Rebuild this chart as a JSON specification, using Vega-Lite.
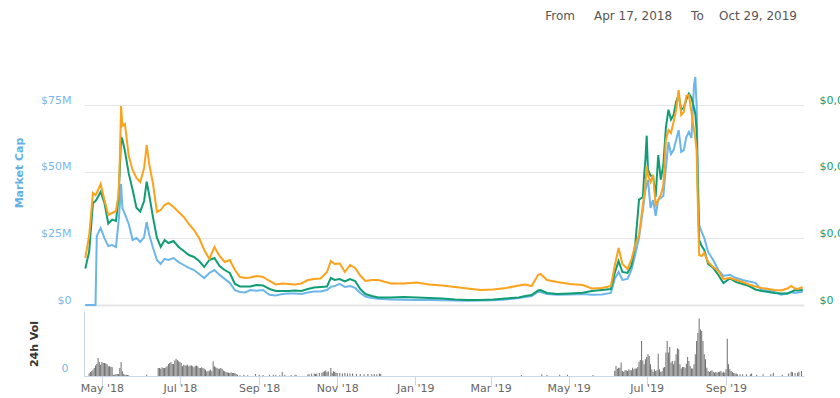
{
  "$schema": "https://vega.github.io/schema/vega-lite/v6.json",
  "autosize": {"type": "none"},
  "padding": {"left": 84, "top": 40, "right": 36, "bottom": 26},
  "params": [{"name": "width", "value": 720}, {"name": "height", "value": 332}],
  "background": "white",
  "config": {
    "font": "DejaVu Sans",
    "view": {"stroke": null},
    "axis": {"labelFont": "DejaVu Sans", "titleFont": "DejaVu Sans"}
  },
  "title": {
    "text": "From\u00a0\u00a0\u00a0\u00a0\u00a0Apr 17, 2018\u00a0\u00a0\u00a0\u00a0\u00a0To\u00a0\u00a0\u00a0\u00a0Oct 29, 2019",
    "anchor": "end",
    "frame": "group",
    "fontSize": 12,
    "fontWeight": "normal",
    "color": "#555555",
    "offset": 17,
    "dx": -7
  },
  "spacing": 2,
  "datasets": {
    "prices": [
      {"date":"2018-04-18","mcap":0,"usd":0.0000548,"sat":0.94},
      {"date":"2018-04-21","mcap":0,"usd":0.0000795,"sat":1.38},
      {"date":"2018-04-24","mcap":0,"usd":0.000153,"sat":2.24},
      {"date":"2018-04-26","mcap":0,"usd":0.000156,"sat":2.20},
      {"date":"2018-04-27","mcap":25.9,"usd":0.000159,"sat":2.24},
      {"date":"2018-04-30","mcap":28.9,"usd":0.00017,"sat":2.42},
      {"date":"2018-05-03","mcap":25.1,"usd":0.000153,"sat":2.10},
      {"date":"2018-05-06","mcap":22.1,"usd":0.000122,"sat":1.80},
      {"date":"2018-05-09","mcap":22.5,"usd":0.000128,"sat":1.84},
      {"date":"2018-05-12","mcap":21.8,"usd":0.000126,"sat":1.88},
      {"date":"2018-05-14","mcap":31.1,"usd":0.000161,"sat":2.20},
      {"date":"2018-05-15","mcap":37.5,"usd":0.000203,"sat":2.90},
      {"date":"2018-05-16","mcap":45.4,"usd":0.000252,"sat":3.98},
      {"date":"2018-05-17","mcap":36.4,"usd":0.000248,"sat":3.58},
      {"date":"2018-05-19","mcap":34.1,"usd":0.000231,"sat":3.62},
      {"date":"2018-05-22","mcap":30.4,"usd":0.000197,"sat":2.98},
      {"date":"2018-05-25","mcap":24.4,"usd":0.000173,"sat":2.70},
      {"date":"2018-05-28","mcap":25.1,"usd":0.000146,"sat":2.54},
      {"date":"2018-05-31","mcap":23.6,"usd":0.00014,"sat":2.46},
      {"date":"2018-06-03","mcap":25.5,"usd":0.000156,"sat":2.74},
      {"date":"2018-06-05","mcap":31.1,"usd":0.000185,"sat":3.20},
      {"date":"2018-06-07","mcap":26.3,"usd":0.000165,"sat":2.82},
      {"date":"2018-06-10","mcap":21.4,"usd":0.000131,"sat":2.42},
      {"date":"2018-06-13","mcap":16.9,"usd":0.000101,"sat":1.86},
      {"date":"2018-06-16","mcap":15.4,"usd":0.000087,"sat":1.90},
      {"date":"2018-06-19","mcap":17.3,"usd":0.0000975,"sat":2.00},
      {"date":"2018-06-22","mcap":16.9,"usd":0.000093,"sat":2.04},
      {"date":"2018-06-26","mcap":17.6,"usd":0.000096,"sat":1.96},
      {"date":"2018-06-30","mcap":16.1,"usd":0.000087,"sat":1.86},
      {"date":"2018-07-04","mcap":15.0,"usd":0.000081,"sat":1.76},
      {"date":"2018-07-08","mcap":13.9,"usd":0.000075,"sat":1.62},
      {"date":"2018-07-12","mcap":13.1,"usd":0.000072,"sat":1.50},
      {"date":"2018-07-16","mcap":11.6,"usd":0.000066,"sat":1.34},
      {"date":"2018-07-20","mcap":10.1,"usd":0.000057,"sat":1.10},
      {"date":"2018-07-24","mcap":12.0,"usd":0.0000675,"sat":0.92},
      {"date":"2018-07-28","mcap":13.1,"usd":0.0000705,"sat":1.16},
      {"date":"2018-08-01","mcap":11.3,"usd":0.0000585,"sat":0.98},
      {"date":"2018-08-05","mcap":9.8,"usd":0.0000525,"sat":0.86},
      {"date":"2018-08-09","mcap":8.3,"usd":0.000048,"sat":0.90},
      {"date":"2018-08-13","mcap":5.6,"usd":0.0000315,"sat":0.70},
      {"date":"2018-08-17","mcap":4.9,"usd":0.0000278,"sat":0.56},
      {"date":"2018-08-21","mcap":4.7,"usd":0.0000278,"sat":0.54},
      {"date":"2018-08-25","mcap":5.6,"usd":0.0000278,"sat":0.55},
      {"date":"2018-08-30","mcap":5.3,"usd":0.00003,"sat":0.58},
      {"date":"2018-09-04","mcap":5.6,"usd":0.0000293,"sat":0.56},
      {"date":"2018-09-09","mcap":3.8,"usd":0.000024,"sat":0.48},
      {"date":"2018-09-14","mcap":3.6,"usd":0.000021,"sat":0.41},
      {"date":"2018-09-19","mcap":4.1,"usd":0.000021,"sat":0.43},
      {"date":"2018-09-24","mcap":4.3,"usd":0.000021,"sat":0.42},
      {"date":"2018-09-29","mcap":4.3,"usd":0.0000218,"sat":0.41},
      {"date":"2018-10-04","mcap":4.1,"usd":0.000021,"sat":0.43},
      {"date":"2018-10-09","mcap":4.7,"usd":0.000024,"sat":0.50},
      {"date":"2018-10-14","mcap":5.1,"usd":0.0000263,"sat":0.52},
      {"date":"2018-10-19","mcap":5.1,"usd":0.000027,"sat":0.53},
      {"date":"2018-10-24","mcap":5.6,"usd":0.0000278,"sat":0.66},
      {"date":"2018-10-27","mcap":6.8,"usd":0.0000405,"sat":0.88},
      {"date":"2018-10-30","mcap":7.1,"usd":0.0000375,"sat":0.82},
      {"date":"2018-11-03","mcap":7.9,"usd":0.000039,"sat":0.83},
      {"date":"2018-11-07","mcap":6.8,"usd":0.0000353,"sat":0.66},
      {"date":"2018-11-11","mcap":7.1,"usd":0.000039,"sat":0.80},
      {"date":"2018-11-15","mcap":6.4,"usd":0.000036,"sat":0.74},
      {"date":"2018-11-19","mcap":4.5,"usd":0.000024,"sat":0.59},
      {"date":"2018-11-23","mcap":3.2,"usd":0.0000165,"sat":0.48},
      {"date":"2018-11-28","mcap":2.6,"usd":0.0000135,"sat":0.50},
      {"date":"2018-12-03","mcap":2.3,"usd":0.0000113,"sat":0.50},
      {"date":"2018-12-13","mcap":2.1,"usd":0.0000113,"sat":0.43},
      {"date":"2018-12-23","mcap":2.0,"usd":0.000012,"sat":0.43},
      {"date":"2019-01-02","mcap":1.9,"usd":0.0000113,"sat":0.45},
      {"date":"2019-01-12","mcap":1.9,"usd":0.0000105,"sat":0.41},
      {"date":"2019-01-22","mcap":1.8,"usd":0.0000098,"sat":0.39},
      {"date":"2019-02-01","mcap":1.7,"usd":0.0000083,"sat":0.36},
      {"date":"2019-02-11","mcap":1.6,"usd":0.0000075,"sat":0.33},
      {"date":"2019-02-21","mcap":1.7,"usd":0.0000075,"sat":0.30},
      {"date":"2019-03-03","mcap":1.8,"usd":0.0000083,"sat":0.31},
      {"date":"2019-03-13","mcap":2.1,"usd":0.0000098,"sat":0.34},
      {"date":"2019-03-23","mcap":2.6,"usd":0.0000113,"sat":0.39},
      {"date":"2019-03-28","mcap":3.0,"usd":0.0000135,"sat":0.41},
      {"date":"2019-04-02","mcap":3.4,"usd":0.000015,"sat":0.38},
      {"date":"2019-04-07","mcap":4.9,"usd":0.0000218,"sat":0.60},
      {"date":"2019-04-09","mcap":4.9,"usd":0.0000225,"sat":0.62},
      {"date":"2019-04-14","mcap":4.1,"usd":0.000018,"sat":0.50},
      {"date":"2019-04-22","mcap":3.8,"usd":0.0000165,"sat":0.46},
      {"date":"2019-05-02","mcap":3.9,"usd":0.0000173,"sat":0.42},
      {"date":"2019-05-12","mcap":4.1,"usd":0.0000185,"sat":0.40},
      {"date":"2019-05-19","mcap":3.8,"usd":0.000021,"sat":0.33},
      {"date":"2019-05-27","mcap":3.9,"usd":0.0000225,"sat":0.34},
      {"date":"2019-06-03","mcap":4.5,"usd":0.000024,"sat":0.38},
      {"date":"2019-06-06","mcap":9.8,"usd":0.000048,"sat":0.78},
      {"date":"2019-06-09","mcap":12.4,"usd":0.000066,"sat":1.14},
      {"date":"2019-06-12","mcap":9.4,"usd":0.0000495,"sat":0.82},
      {"date":"2019-06-16","mcap":9.8,"usd":0.000048,"sat":0.72},
      {"date":"2019-06-19","mcap":13.1,"usd":0.0000585,"sat":0.90},
      {"date":"2019-06-22","mcap":18.8,"usd":0.00009,"sat":1.20},
      {"date":"2019-06-25","mcap":25.1,"usd":0.000158,"sat":1.40},
      {"date":"2019-06-28","mcap":35.6,"usd":0.000162,"sat":2.00},
      {"date":"2019-06-29","mcap":39.4,"usd":0.000195,"sat":2.20},
      {"date":"2019-06-30","mcap":43.1,"usd":0.000218,"sat":2.40},
      {"date":"2019-07-01","mcap":45.0,"usd":0.000254,"sat":2.78},
      {"date":"2019-07-02","mcap":46.9,"usd":0.000203,"sat":2.60},
      {"date":"2019-07-04","mcap":36.4,"usd":0.000194,"sat":2.46},
      {"date":"2019-07-06","mcap":39.4,"usd":0.000194,"sat":2.60},
      {"date":"2019-07-08","mcap":33.4,"usd":0.000162,"sat":2.00},
      {"date":"2019-07-10","mcap":39.4,"usd":0.000225,"sat":2.10},
      {"date":"2019-07-12","mcap":40.1,"usd":0.000188,"sat":2.20},
      {"date":"2019-07-14","mcap":40.9,"usd":0.00021,"sat":2.40},
      {"date":"2019-07-16","mcap":51.4,"usd":0.000266,"sat":3.30},
      {"date":"2019-07-18","mcap":61.1,"usd":0.000293,"sat":3.50},
      {"date":"2019-07-20","mcap":56.6,"usd":0.000278,"sat":3.44},
      {"date":"2019-07-22","mcap":58.1,"usd":0.000285,"sat":3.66},
      {"date":"2019-07-24","mcap":61.9,"usd":0.000305,"sat":3.90},
      {"date":"2019-07-26","mcap":65.6,"usd":0.000315,"sat":4.30},
      {"date":"2019-07-28","mcap":57.4,"usd":0.000293,"sat":3.80},
      {"date":"2019-07-30","mcap":58.1,"usd":0.000296,"sat":3.86},
      {"date":"2019-08-01","mcap":63.0,"usd":0.000308,"sat":4.18},
      {"date":"2019-08-03","mcap":64.9,"usd":0.000317,"sat":4.20},
      {"date":"2019-08-05","mcap":62.6,"usd":0.000311,"sat":3.86},
      {"date":"2019-08-07","mcap":82.5,"usd":0.000296,"sat":3.50},
      {"date":"2019-08-08","mcap":85.5,"usd":0.000287,"sat":3.34},
      {"date":"2019-08-09","mcap":75.0,"usd":0.000263,"sat":3.10},
      {"date":"2019-08-10","mcap":50.6,"usd":0.000173,"sat":2.00},
      {"date":"2019-08-11","mcap":30.0,"usd":0.0000975,"sat":1.00},
      {"date":"2019-08-13","mcap":27.4,"usd":0.0000885,"sat":0.98},
      {"date":"2019-08-15","mcap":25.1,"usd":0.0000825,"sat":1.04},
      {"date":"2019-08-18","mcap":19.9,"usd":0.0000615,"sat":0.86},
      {"date":"2019-08-22","mcap":16.9,"usd":0.0000555,"sat":0.76},
      {"date":"2019-08-26","mcap":13.1,"usd":0.000045,"sat":0.68},
      {"date":"2019-08-30","mcap":10.9,"usd":0.000033,"sat":0.52},
      {"date":"2019-09-04","mcap":11.3,"usd":0.0000398,"sat":0.54},
      {"date":"2019-09-09","mcap":10.1,"usd":0.0000345,"sat":0.50},
      {"date":"2019-09-14","mcap":9.4,"usd":0.0000315,"sat":0.46},
      {"date":"2019-09-19","mcap":8.8,"usd":0.0000285,"sat":0.41},
      {"date":"2019-09-24","mcap":8.3,"usd":0.0000233,"sat":0.37},
      {"date":"2019-09-29","mcap":5.6,"usd":0.000021,"sat":0.34},
      {"date":"2019-10-04","mcap":5.4,"usd":0.0000195,"sat":0.32},
      {"date":"2019-10-09","mcap":4.9,"usd":0.000018,"sat":0.30},
      {"date":"2019-10-14","mcap":3.9,"usd":0.0000173,"sat":0.29},
      {"date":"2019-10-19","mcap":4.3,"usd":0.0000173,"sat":0.33},
      {"date":"2019-10-22","mcap":4.9,"usd":0.0000195,"sat":0.38},
      {"date":"2019-10-25","mcap":4.5,"usd":0.0000225,"sat":0.33},
      {"date":"2019-10-27","mcap":4.7,"usd":0.0000218,"sat":0.32},
      {"date":"2019-10-30","mcap":4.9,"usd":0.0000225,"sat":0.35},
      {"date":"2019-10-31","mcap":5.1,"usd":0.0000233,"sat":0.35}
    ],
    "volume": [
      {"date":"2018-04-21","vol":1.2},{"date":"2018-04-22","vol":1.8},{"date":"2018-04-23","vol":2.2},{"date":"2018-04-24","vol":2.9},
      {"date":"2018-04-25","vol":3.7},{"date":"2018-04-26","vol":4.9},{"date":"2018-04-27","vol":5.5},{"date":"2018-04-28","vol":8.3},
      {"date":"2018-04-29","vol":6.5},{"date":"2018-04-30","vol":5.2},{"date":"2018-05-01","vol":6.5},{"date":"2018-05-02","vol":6.0},
      {"date":"2018-05-03","vol":6.0},{"date":"2018-05-04","vol":5.8},{"date":"2018-05-05","vol":5.5},{"date":"2018-05-06","vol":4.5},
      {"date":"2018-05-07","vol":4.5},{"date":"2018-05-08","vol":4.3},{"date":"2018-05-09","vol":4.0},{"date":"2018-05-10","vol":0.6},
      {"date":"2018-05-11","vol":0.6},{"date":"2018-05-12","vol":0.9},{"date":"2018-05-13","vol":0.9},{"date":"2018-05-14","vol":0.9},
      {"date":"2018-05-15","vol":3.7},{"date":"2018-05-16","vol":6.5},{"date":"2018-05-17","vol":2.2},{"date":"2018-05-18","vol":0.9},
      {"date":"2018-05-19","vol":0.6},{"date":"2018-05-20","vol":0.6},{"date":"2018-05-21","vol":0.5},{"date":"2018-05-22","vol":0.3},
      {"date":"2018-06-05","vol":0.6},
      {"date":"2018-06-14","vol":3.7},{"date":"2018-06-15","vol":3.7},{"date":"2018-06-16","vol":3.4},{"date":"2018-06-17","vol":4.0},
      {"date":"2018-06-18","vol":3.7},{"date":"2018-06-19","vol":3.7},{"date":"2018-06-20","vol":4.0},{"date":"2018-06-21","vol":4.5},
      {"date":"2018-06-22","vol":5.5},{"date":"2018-06-23","vol":6.0},{"date":"2018-06-24","vol":6.5},{"date":"2018-06-25","vol":5.5},
      {"date":"2018-06-26","vol":5.5},{"date":"2018-06-27","vol":7.1},{"date":"2018-06-28","vol":8.0},{"date":"2018-06-29","vol":7.4},
      {"date":"2018-06-30","vol":6.8},{"date":"2018-07-01","vol":6.5},{"date":"2018-07-02","vol":6.0},{"date":"2018-07-03","vol":4.5},
      {"date":"2018-07-04","vol":5.2},{"date":"2018-07-05","vol":4.9},{"date":"2018-07-06","vol":4.9},{"date":"2018-07-07","vol":5.2},
      {"date":"2018-07-08","vol":4.5},{"date":"2018-07-09","vol":4.8},{"date":"2018-07-10","vol":4.9},{"date":"2018-07-11","vol":4.5},
      {"date":"2018-07-12","vol":4.0},{"date":"2018-07-13","vol":4.6},{"date":"2018-07-14","vol":4.9},{"date":"2018-07-15","vol":4.5},
      {"date":"2018-07-16","vol":3.7},{"date":"2018-07-17","vol":3.7},{"date":"2018-07-18","vol":4.0},{"date":"2018-07-19","vol":3.7},
      {"date":"2018-07-20","vol":3.4},{"date":"2018-07-21","vol":2.9},{"date":"2018-07-22","vol":2.2},{"date":"2018-07-23","vol":2.2},
      {"date":"2018-07-24","vol":2.5},{"date":"2018-07-25","vol":2.9},{"date":"2018-07-26","vol":2.2},{"date":"2018-07-27","vol":6.8},
      {"date":"2018-07-28","vol":4.5},{"date":"2018-07-29","vol":4.0},{"date":"2018-07-30","vol":3.7},{"date":"2018-07-31","vol":3.4},
      {"date":"2018-08-01","vol":3.4},{"date":"2018-08-02","vol":3.7},{"date":"2018-08-03","vol":3.4},{"date":"2018-08-04","vol":2.5},
      {"date":"2018-08-05","vol":2.2},{"date":"2018-08-06","vol":1.8},{"date":"2018-08-07","vol":1.7},{"date":"2018-08-08","vol":1.5},
      {"date":"2018-08-09","vol":1.4},{"date":"2018-08-10","vol":1.7},{"date":"2018-08-11","vol":1.4},{"date":"2018-08-12","vol":1.4},
      {"date":"2018-08-13","vol":1.4},{"date":"2018-08-14","vol":0.9},{"date":"2018-08-15","vol":0.6},{"date":"2018-08-17","vol":0.3},
      {"date":"2018-08-20","vol":0.6},{"date":"2018-08-23","vol":0.3},{"date":"2018-08-29","vol":0.9},{"date":"2018-09-01","vol":0.6},
      {"date":"2018-09-04","vol":0.5},{"date":"2018-09-09","vol":0.6},{"date":"2018-09-12","vol":0.6},{"date":"2018-09-14","vol":0.6},
      {"date":"2018-09-17","vol":0.3},{"date":"2018-09-19","vol":1.8},{"date":"2018-09-21","vol":0.6},{"date":"2018-09-26","vol":0.5},
      {"date":"2018-09-29","vol":0.6},{"date":"2018-09-30","vol":0.3},{"date":"2018-10-09","vol":0.6},{"date":"2018-10-10","vol":0.9},
      {"date":"2018-10-12","vol":1.2},{"date":"2018-10-14","vol":1.1},{"date":"2018-10-15","vol":0.9},{"date":"2018-10-16","vol":1.2},
      {"date":"2018-10-18","vol":1.4},{"date":"2018-10-20","vol":1.5},{"date":"2018-10-21","vol":1.8},{"date":"2018-10-22","vol":2.2},
      {"date":"2018-10-23","vol":2.5},{"date":"2018-10-24","vol":1.7},{"date":"2018-10-25","vol":2.2},{"date":"2018-10-27","vol":3.7},
      {"date":"2018-10-28","vol":1.4},{"date":"2018-10-29","vol":2.2},{"date":"2018-10-30","vol":1.8},{"date":"2018-10-31","vol":1.5},
      {"date":"2018-11-01","vol":1.4},{"date":"2018-11-03","vol":1.4},{"date":"2018-11-05","vol":1.2},{"date":"2018-11-07","vol":1.4},
      {"date":"2018-11-09","vol":1.1},{"date":"2018-11-11","vol":1.2},{"date":"2018-11-13","vol":1.2},{"date":"2018-11-16","vol":0.9},
      {"date":"2018-11-19","vol":0.9},{"date":"2018-11-22","vol":0.8},{"date":"2018-11-25","vol":0.9},{"date":"2018-11-28","vol":0.8},
      {"date":"2018-11-30","vol":0.9},{"date":"2018-12-02","vol":0.8},{"date":"2018-12-04","vol":1.1},{"date":"2018-12-05","vol":0.9},
      {"date":"2019-03-25","vol":0.5},{"date":"2019-04-10","vol":0.8},{"date":"2019-04-14","vol":0.5},{"date":"2019-04-24","vol":0.6},
      {"date":"2019-04-30","vol":0.6},{"date":"2019-05-20","vol":0.5},
      {"date":"2019-06-06","vol":2.3},{"date":"2019-06-07","vol":4.6},{"date":"2019-06-08","vol":3.4},{"date":"2019-06-09","vol":3.8},
      {"date":"2019-06-10","vol":3.8},{"date":"2019-06-11","vol":6.2},{"date":"2019-06-12","vol":2.3},{"date":"2019-06-13","vol":2.0},
      {"date":"2019-06-14","vol":2.6},{"date":"2019-06-15","vol":2.6},{"date":"2019-06-16","vol":2.3},{"date":"2019-06-17","vol":3.1},
      {"date":"2019-06-18","vol":2.6},{"date":"2019-06-19","vol":2.6},{"date":"2019-06-20","vol":3.8},{"date":"2019-06-21","vol":3.1},
      {"date":"2019-06-22","vol":3.5},{"date":"2019-06-23","vol":3.5},{"date":"2019-06-24","vol":4.2},{"date":"2019-06-25","vol":6.6},
      {"date":"2019-06-26","vol":7.4},{"date":"2019-06-27","vol":16.1},{"date":"2019-06-28","vol":7.2},{"date":"2019-06-29","vol":5.4},
      {"date":"2019-06-30","vol":7.7},{"date":"2019-07-01","vol":8.8},{"date":"2019-07-02","vol":10.0},{"date":"2019-07-03","vol":9.2},
      {"date":"2019-07-04","vol":5.4},{"date":"2019-07-05","vol":3.1},{"date":"2019-07-06","vol":2.0},{"date":"2019-07-07","vol":3.1},
      {"date":"2019-07-08","vol":2.3},{"date":"2019-07-09","vol":2.6},{"date":"2019-07-10","vol":10.3},{"date":"2019-07-11","vol":3.1},
      {"date":"2019-07-12","vol":1.8},{"date":"2019-07-13","vol":2.3},{"date":"2019-07-14","vol":3.8},{"date":"2019-07-15","vol":4.2},
      {"date":"2019-07-16","vol":10.8},{"date":"2019-07-17","vol":16.1},{"date":"2019-07-18","vol":10.8},{"date":"2019-07-19","vol":13.4},
      {"date":"2019-07-20","vol":6.2},{"date":"2019-07-21","vol":6.9},{"date":"2019-07-22","vol":5.4},{"date":"2019-07-23","vol":6.9},
      {"date":"2019-07-24","vol":10.0},{"date":"2019-07-25","vol":12.8},{"date":"2019-07-26","vol":12.3},{"date":"2019-07-27","vol":5.4},
      {"date":"2019-07-28","vol":3.5},{"date":"2019-07-29","vol":4.2},{"date":"2019-07-30","vol":4.2},{"date":"2019-07-31","vol":3.8},
      {"date":"2019-08-01","vol":5.7},{"date":"2019-08-02","vol":8.8},{"date":"2019-08-03","vol":6.9},{"date":"2019-08-04","vol":4.6},
      {"date":"2019-08-05","vol":3.5},{"date":"2019-08-06","vol":3.5},{"date":"2019-08-07","vol":5.4},{"date":"2019-08-08","vol":10.0},
      {"date":"2019-08-09","vol":16.1},{"date":"2019-08-10","vol":20.0},{"date":"2019-08-11","vol":26.5},{"date":"2019-08-12","vol":21.5},
      {"date":"2019-08-13","vol":20.8},{"date":"2019-08-14","vol":16.1},{"date":"2019-08-15","vol":10.0},{"date":"2019-08-16","vol":7.7},
      {"date":"2019-08-17","vol":3.8},{"date":"2019-08-18","vol":2.3},{"date":"2019-08-19","vol":1.8},{"date":"2019-08-20","vol":2.3},
      {"date":"2019-08-21","vol":2.6},{"date":"2019-08-22","vol":2.0},{"date":"2019-08-23","vol":1.5},{"date":"2019-08-24","vol":1.8},
      {"date":"2019-08-25","vol":1.5},{"date":"2019-08-26","vol":1.8},{"date":"2019-08-27","vol":2.0},{"date":"2019-08-28","vol":2.3},
      {"date":"2019-08-29","vol":1.5},{"date":"2019-08-30","vol":2.0},{"date":"2019-08-31","vol":1.5},{"date":"2019-09-01","vol":3.1},
      {"date":"2019-09-02","vol":17.2},{"date":"2019-09-03","vol":5.4},{"date":"2019-09-04","vol":3.1},{"date":"2019-09-05","vol":2.3},
      {"date":"2019-09-06","vol":1.8},{"date":"2019-09-07","vol":1.4},{"date":"2019-09-08","vol":1.1},{"date":"2019-09-09","vol":1.1},
      {"date":"2019-09-10","vol":0.8},{"date":"2019-09-12","vol":0.8},{"date":"2019-09-14","vol":0.8},{"date":"2019-09-17","vol":0.8},
      {"date":"2019-09-20","vol":0.8},{"date":"2019-09-21","vol":1.1},{"date":"2019-09-25","vol":0.6},{"date":"2019-09-30","vol":0.8},
      {"date":"2019-10-06","vol":0.8},{"date":"2019-10-08","vol":1.5},{"date":"2019-10-15","vol":0.6},{"date":"2019-10-20","vol":1.1},
      {"date":"2019-10-22","vol":2.0},{"date":"2019-10-23","vol":1.7},{"date":"2019-10-25","vol":1.4},{"date":"2019-10-27","vol":1.5},
      {"date":"2019-10-28","vol":2.0},{"date":"2019-10-30","vol":2.3}
    ]
  },
  "vconcat": [
    {
      "width": 720,
      "height": 265,
      "data": {"name": "prices"},
      "encoding": {
        "x": {
          "field": "date", "type": "temporal",
          "scale": {"domain": [{"year": 2018, "month": 4, "date": 17}, {"year": 2019, "month": 11, "date": 1}], "padding": 0},
          "axis": {"labels": false, "ticks": false, "grid": false, "domainColor": "#e6e6e6", "domainWidth": 2, "title": null}
        }
      },
      "layer": [
        {
          "mark": {"type": "line", "color": "#6cb6ea", "strokeWidth": 2},
          "encoding": {
            "y": {
              "field": "mcap", "type": "quantitative",
              "scale": {"domain": [0, 99.375], "nice": false, "zero": true},
              "axis": {
                "orient": "left",
                "values": [0, 25, 50, 75],
                "labelExpr": "datum.value == 0 ? '$0' : '$' + datum.value + 'M'",
                "grid": true, "gridColor": "#e6e6e6", "gridWidth": 1,
                "domain": false, "ticks": false,
                "labelColor": "#77b8ea", "labelFontSize": 11, "labelPadding": 13, "labelBaseline": "bottom",
                "title": "Market Cap", "titleColor": "#62aee6", "titleFontWeight": "bold", "titleFontSize": 11, "titlePadding": 16
              }
            }
          }
        },
        {
          "mark": {"type": "line", "color": "#109d74", "strokeWidth": 2},
          "encoding": {
            "y": {
              "field": "usd", "type": "quantitative",
              "scale": {"domain": [0, 0.0003975], "nice": false, "zero": true},
              "axis": {
                "orient": "right",
                "values": [0, 0.0001, 0.0002, 0.0003],
                "labelExpr": "datum.value == 0 ? '$0' : '$' + replace(format(datum.value, '.4f'), '.', ',')",
                "grid": false, "domain": false, "ticks": false,
                "labelColor": "#139b72", "labelFontSize": 11, "labelPadding": 15, "labelBaseline": "bottom",
                "title": null
              }
            }
          }
        },
        {
          "mark": {"type": "line", "color": "#fca21c", "strokeWidth": 2},
          "encoding": {
            "y": {
              "field": "sat", "type": "quantitative",
              "scale": {"domain": [0, 5.3], "nice": false, "zero": true},
              "axis": null
            }
          }
        }
      ],
      "resolve": {"scale": {"y": "independent"}}
    },
    {
      "width": 720,
      "height": 65,
      "data": {"name": "volume"},
      "mark": {"type": "bar", "color": "#6f6f6f", "width": 1},
      "encoding": {
        "x": {
          "field": "date", "type": "temporal",
          "scale": {"domain": [{"year": 2018, "month": 4, "date": 17}, {"year": 2019, "month": 11, "date": 1}], "padding": 0},
          "axis": {
            "values": [
              {"year": 2018, "month": 5, "date": 1}, {"year": 2018, "month": 7, "date": 1}, {"year": 2018, "month": 9, "date": 1},
              {"year": 2018, "month": 11, "date": 1}, {"year": 2019, "month": 1, "date": 1}, {"year": 2019, "month": 3, "date": 1},
              {"year": 2019, "month": 5, "date": 1}, {"year": 2019, "month": 7, "date": 1}, {"year": 2019, "month": 9, "date": 1}
            ],
            "format": "%b '%y",
            "labelColor": "#666666", "labelFontSize": 11,
            "tickColor": "#ccd6eb", "tickSize": 9, "labelPadding": -3,
            "domainColor": "#ccd6eb", "grid": false, "title": null
          }
        },
        "y": {
          "field": "vol", "type": "quantitative",
          "scale": {"domain": [0, 30], "nice": false},
          "axis": {
            "values": [0],
            "grid": false, "ticks": false,
            "domainColor": "#ccd6eb",
            "labelColor": "#77b8ea", "labelFontSize": 11, "labelPadding": 16, "labelBaseline": "bottom", "labelOffset": -3,
            "title": "24h Vol", "titleColor": "#333333", "titleFontWeight": "bold", "titleFontSize": 11, "titlePadding": 22
          }
        }
      }
    }
  ]
}
